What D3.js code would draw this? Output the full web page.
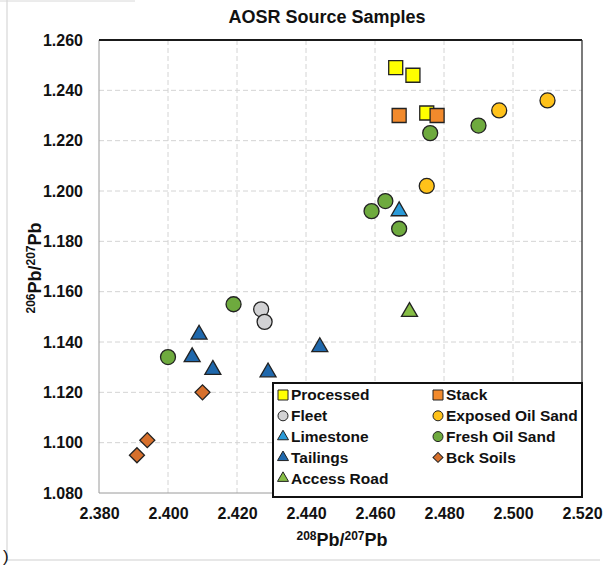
<!DOCTYPE html>
<html lang='en'>
	<head>
		<meta charset='utf-8'>
		<title>AOSR Source Samples</title>
		<script type='text/javascript' src='https://cdn.jsdelivr.net/npm/d3@7/dist/d3.min.js'></script>
		<style>
			body { margin:0; background:#fff; }
			text { font-family: Arial, 'Liberation Sans', sans-serif; font-weight:bold; fill:#111; }
		</style>
	</head>
	<body>
	</body>
	<script type='text/javascript'>
	// values, [208Pb/207Pb, 206Pb/207Pb]
	var series_names = ['Processed', 'Stack', 'Fleet', 'Exposed Oil Sand', 'Limestone', 'Fresh Oil Sand', 'Tailings', 'Bck Soils', 'Access Road'];
	var processed = [[2.466, 1.249], [2.471, 1.246], [2.475, 1.231]];
	var stack = [[2.467, 1.230], [2.478, 1.230]];
	var fleet = [[2.427, 1.153], [2.428, 1.148]];
	var exposed_oil_sand = [[2.496, 1.232], [2.510, 1.236], [2.475, 1.202]];
	var limestone = [[2.467, 1.192]];
	var fresh_oil_sand = [[2.476, 1.223], [2.490, 1.226], [2.459, 1.192], [2.463, 1.196], [2.467, 1.185], [2.419, 1.155], [2.400, 1.134]];
	var tailings = [[2.409, 1.143], [2.407, 1.134], [2.413, 1.129], [2.429, 1.128], [2.444, 1.138]];
	var bck_soils = [[2.410, 1.120], [2.394, 1.101], [2.391, 1.095]];
	var access_road = [[2.470, 1.152]];
	var x_ticks = [2.380, 2.400, 2.420, 2.440, 2.460, 2.480, 2.500, 2.520];
	var y_ticks = [1.080, 1.100, 1.120, 1.140, 1.160, 1.180, 1.200, 1.220, 1.240, 1.260];

	var all_series = [processed, stack, fleet, exposed_oil_sand, limestone, fresh_oil_sand, tailings, bck_soils, access_road];

	// look of each series
	var fills = ['#ffff00', '#f28a2c', '#d2d2d4', '#ffc21a', '#2a9ad8', '#6eaa3e', '#1f68ac', '#d7702c', '#86bd45'];
	var shapes = ['square', 'square', 'circle', 'circle', 'triangle', 'circle', 'triangle', 'diamond', 'triangle'];

	var width = 613, height = 569;
	var pl = 99, pr = 582, pt = 40, pb = 493;   // plot box edges

	var svg = d3.select('body').append('svg').attr('width', width).attr('height', height)

	var scale_x = d3.scaleLinear().domain([2.38, 2.52]).range([pl, pr]);
	var scale_y = d3.scaleLinear().domain([1.08, 1.26]).range([pb, pt]);

	// faint frame of the chart area from the scan
	svg.append('line').attr('x1', 7).attr('x2', 7).attr('y1', 0).attr('y2', 560).attr('stroke', '#cfcfcf')
	svg.append('line').attr('x1', 7).attr('x2', 600).attr('y1', 560).attr('y2', 560).attr('stroke', '#cfcfcf')
	svg.append('line').attr('x1', 0).attr('x2', 135).attr('y1', 1).attr('y2', 1).attr('stroke', '#d8d8d8')
	svg.append('text').attr('x', 3).attr('y', 562).attr('font-size', '17px').style('font-weight', 'normal').text(')')

	// gridlines
	svg.append('g').selectAll('line').data(x_ticks.slice(1, -1)).enter().append('line')
		.attr('x1', d=>scale_x(d)).attr('x2', d=>scale_x(d))
		.attr('y1', pt).attr('y2', pb)
		.attr('stroke', '#d4d4d4').attr('stroke-dasharray', '5,3')
	svg.append('g').selectAll('line').data(y_ticks.slice(1, -1)).enter().append('line')
		.attr('x1', pl).attr('x2', pr)
		.attr('y1', d=>scale_y(d)).attr('y2', d=>scale_y(d))
		.attr('stroke', '#d4d4d4').attr('stroke-dasharray', '5,3')

	// plot frame: dark top/right, grey left/bottom
	svg.append('line').attr('x1', pl).attr('x2', pl).attr('y1', pt).attr('y2', pb).attr('stroke', '#9a9a9a')
	svg.append('line').attr('x1', pl).attr('x2', pr).attr('y1', pb).attr('y2', pb).attr('stroke', '#9a9a9a')
	svg.append('line').attr('x1', pl).attr('x2', pr).attr('y1', pt).attr('y2', pt).attr('stroke', '#1a1a1a').attr('stroke-width', 2)
	svg.append('line').attr('x1', pr).attr('x2', pr).attr('y1', pt).attr('y2', pb).attr('stroke', '#333').attr('stroke-width', 1.3)

	// axes
	var ax = svg.append('g').attr('transform', 'translate(0,' + pb + ')')
		.call(d3.axisBottom(scale_x).tickValues(x_ticks).tickFormat(d3.format('.3f')).tickSize(0).tickPadding(15))
	var ay = svg.append('g').attr('transform', 'translate(' + pl + ',0)')
		.call(d3.axisLeft(scale_y).tickValues(y_ticks).tickFormat(d3.format('.3f')).tickSize(0).tickPadding(16))
	ax.select('.domain').remove()
	ay.select('.domain').remove()
	svg.selectAll('.tick text').attr('font-size', '16px').attr('font-family', null).attr('fill', '#111')

	// title and axis titles
	svg.append('text').attr('x', 327).attr('y', 23).attr('text-anchor', 'middle').attr('font-size', '18px')
		.text('AOSR Source Samples')

	var xt = svg.append('text').attr('x', 342).attr('y', 546).attr('text-anchor', 'middle').attr('font-size', '18px')
	xt.append('tspan').attr('font-size', '12px').attr('dy', -6).text('208')
	xt.append('tspan').attr('dy', 6).text('Pb/')
	xt.append('tspan').attr('font-size', '12px').attr('dy', -6).text('207')
	xt.append('tspan').attr('dy', 6).text('Pb')

	var yt = svg.append('text').attr('transform', 'translate(41,268) rotate(-90)').attr('text-anchor', 'middle').attr('font-size', '18px')
	yt.append('tspan').attr('font-size', '12px').attr('dy', -6).text('206')
	yt.append('tspan').attr('dy', 6).text('Pb/')
	yt.append('tspan').attr('font-size', '12px').attr('dy', -6).text('207')
	yt.append('tspan').attr('dy', 6).text('Pb')

	// marker path for a shape at a given size (px across)
	function marker(shape, s) {
		if (shape == 'square') return d3.symbol().type(d3.symbolSquare).size(s * s)()
		if (shape == 'circle') return d3.symbol().type(d3.symbolCircle).size(Math.PI * s * s / 4)()
		if (shape == 'triangle') return d3.symbol().type(d3.symbolTriangle).size(Math.sqrt(3) / 4 * s * s)()
		return d3.symbol().type(d3.symbolSquare).size(s * s / 2)()
	}
	function rot(shape) { return shape == 'diamond' ? ' rotate(45)' : '' }
	var big = {square: 14, circle: 15, triangle: 16, diamond: 15}
	var small = {square: 10, circle: 10, triangle: 11, diamond: 10}

	// points
	for (var i = 0; i < all_series.length; i++) {
		svg.append('g').selectAll('path').data(all_series[i]).enter().append('path')
			.attr('d', marker(shapes[i], big[shapes[i]]))
			.attr('transform', d=>'translate(' + scale_x(d[0]) + ',' + scale_y(d[1]) + ')' + rot(shapes[i]))
			.attr('fill', fills[i]).attr('stroke', '#222').attr('stroke-width', 1.3)
	}

	// legend box
	var lg = svg.append('g')
	lg.append('rect').attr('x', 273).attr('y', 383).attr('width', 309).attr('height', 114)
		.attr('fill', '#fff').attr('stroke', '#111').attr('stroke-width', 2)
	var items = lg.selectAll('g').data(series_names).enter().append('g')
		.attr('transform', (d, i) => 'translate(' + (i % 2 == 0 ? 283 : 438) + ',' + (395 + Math.floor(i / 2) * 20.8) + ')')
	items.append('path')
		.attr('d', (d, i) => marker(shapes[i], small[shapes[i]]))
		.attr('transform', (d, i) => rot(shapes[i]).trim())
		.attr('fill', (d, i) => fills[i]).attr('stroke', '#222').attr('stroke-width', 1)
	items.append('text').attr('x', 8).attr('dy', '0.35em').attr('font-size', '15.5px').text(d=>d)
	</script>
</html>
